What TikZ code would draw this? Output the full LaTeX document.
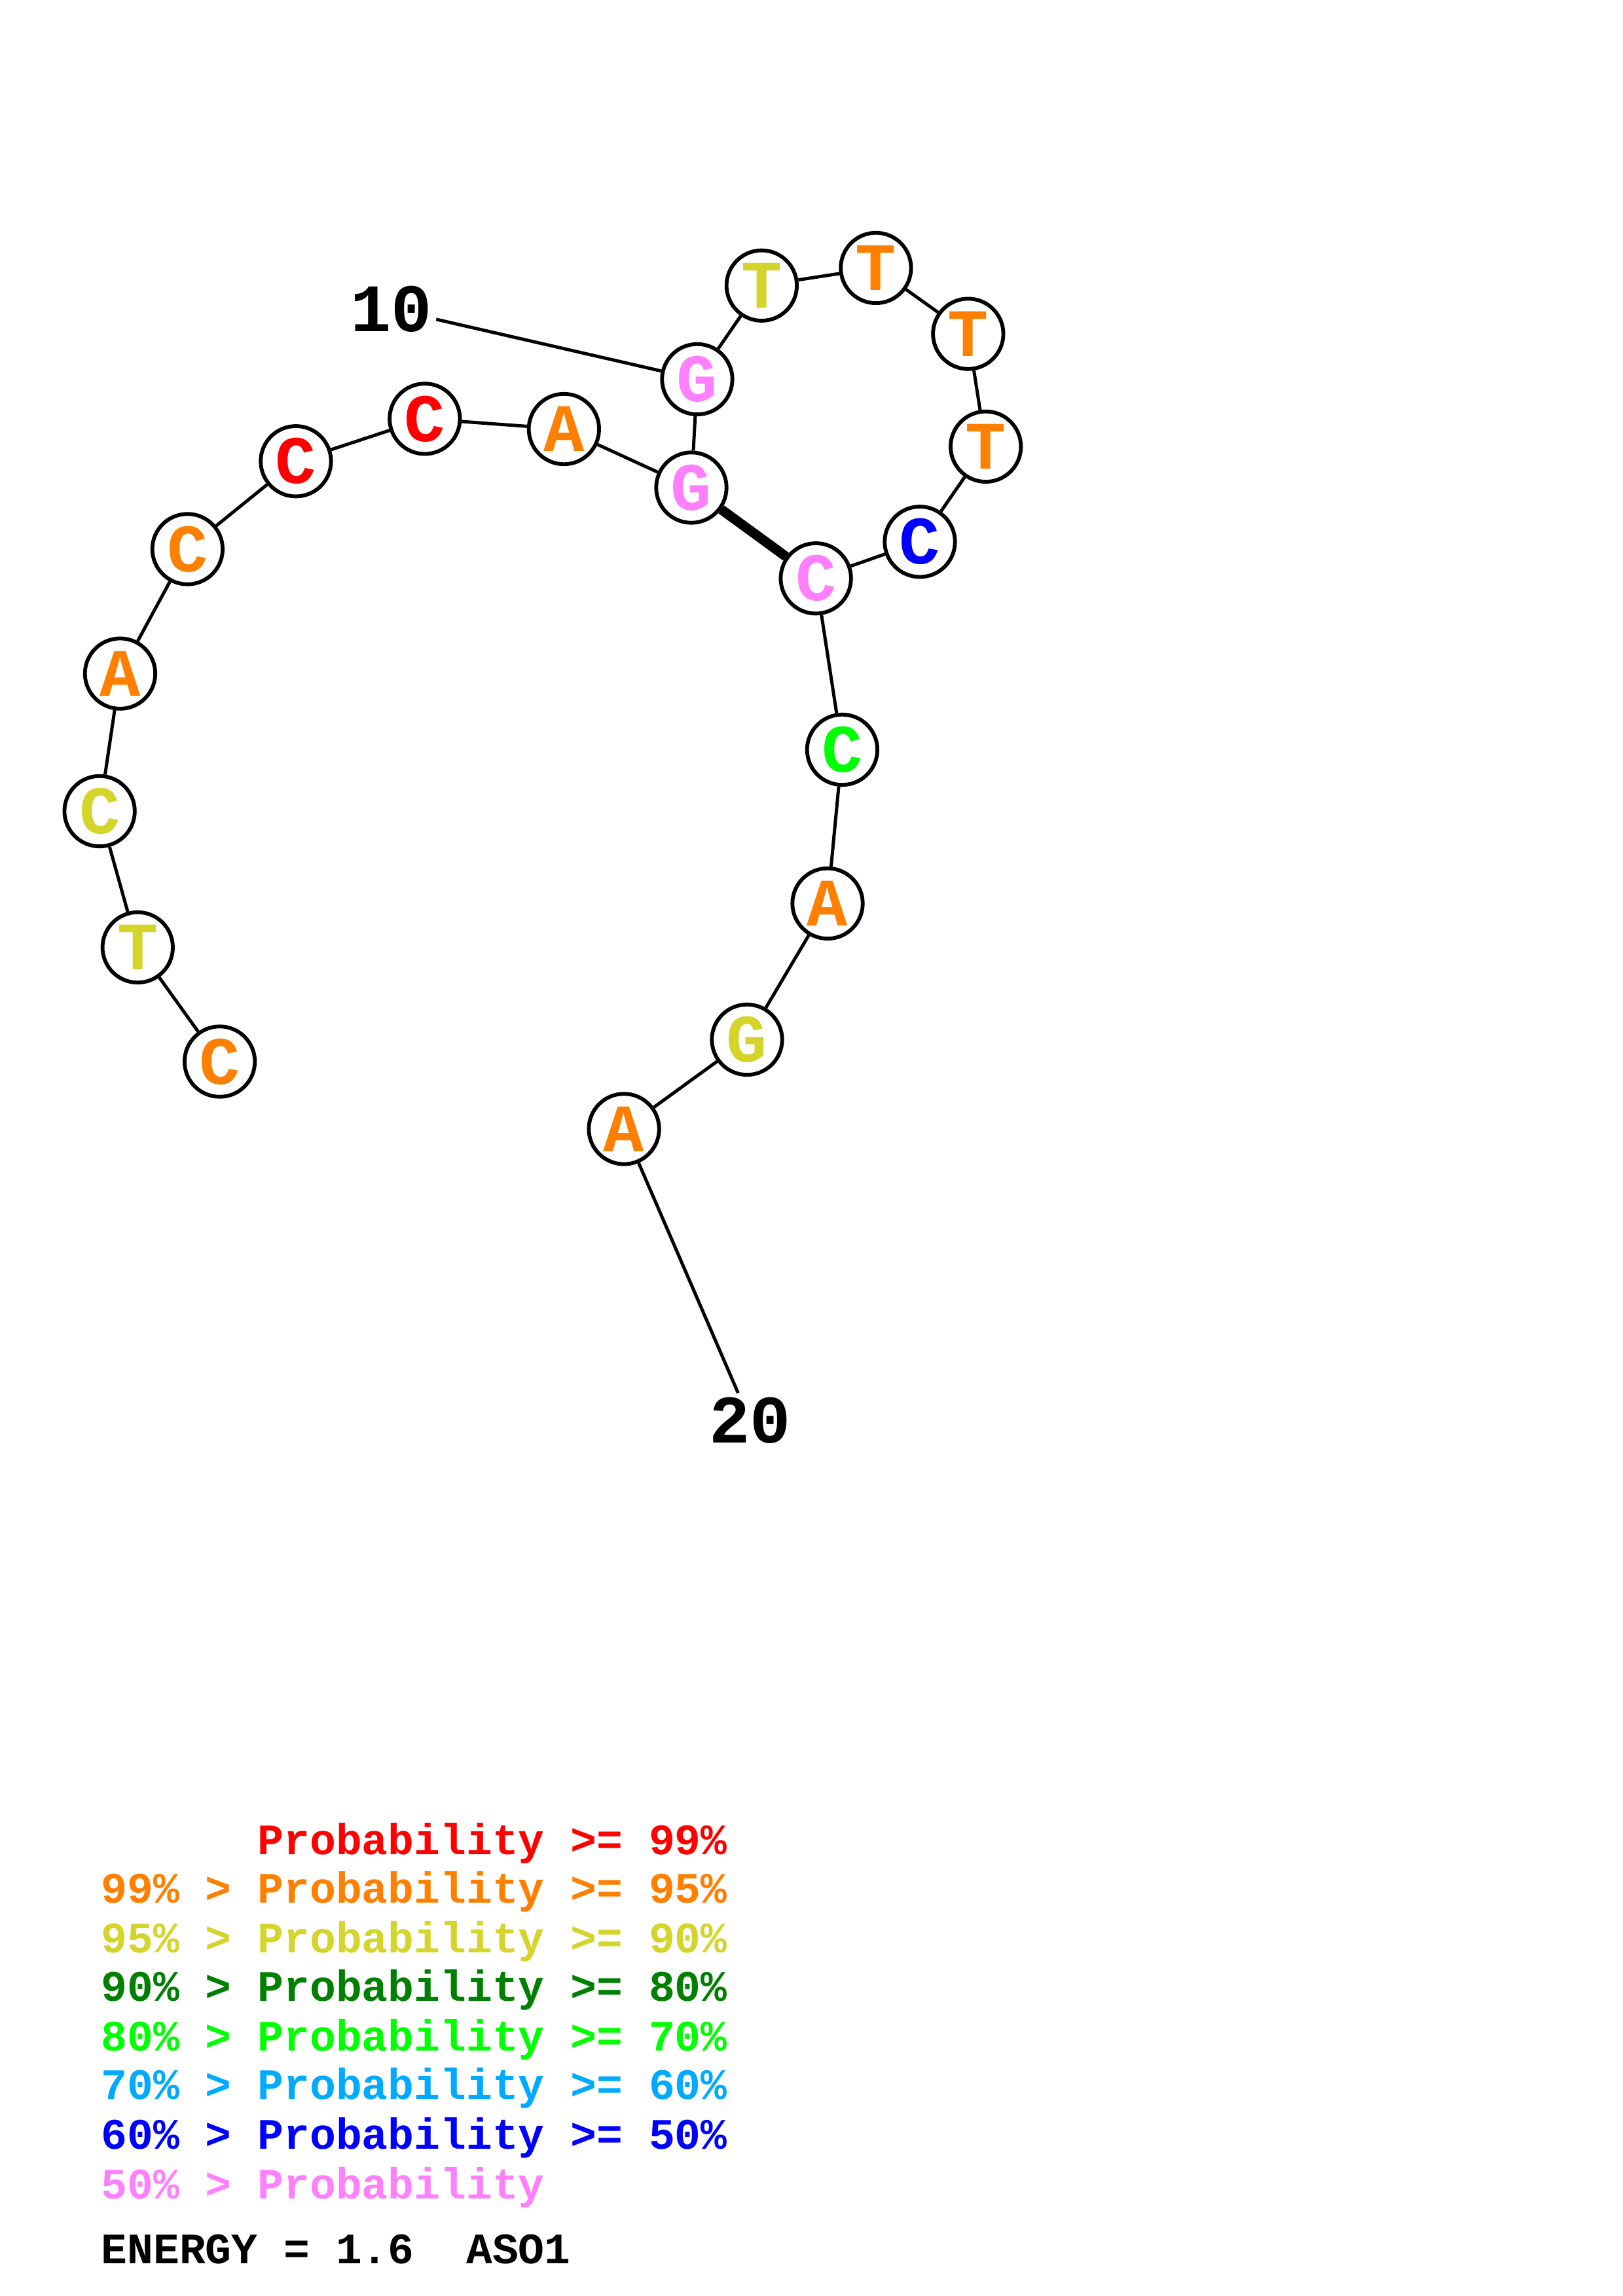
\documentclass[tikz,border=0pt]{standalone}
\usepackage{fontspec}
\setmonofont{Liberation Mono}

% Colours of the probability classes
\definecolor{prA}{RGB}{255,0,0}
\definecolor{prB}{RGB}{255,128,0}
\definecolor{prC}{RGB}{212,212,42}
\definecolor{prD}{RGB}{0,128,0}
\definecolor{prE}{RGB}{0,255,0}
\definecolor{prF}{RGB}{0,170,255}
\definecolor{prG}{RGB}{0,0,255}
\definecolor{prH}{RGB}{255,128,255}

\begin{document}
\begin{tikzpicture}[x=0.018954cm, y=-0.018954cm, line width=1.2pt,
    base/.style={circle, draw, fill=white, line width=1.4pt, minimum size=0.91cm, inner sep=0pt,
      font=\ttfamily\bfseries\fontsize{25}{25}\selectfont},
    idx/.style={inner sep=1pt, font=\ttfamily\bfseries\fontsize{25}{25}\selectfont},
    legend/.style={anchor=west, inner sep=0pt, font=\ttfamily\bfseries\fontsize{16}{16}\selectfont}]
  \useasboundingbox (0,0) rectangle (1108,1568);

  % Bases of the strand
  \node[base, text=prB] (n1) at (150,725) {C};
  \node[base, text=prC] (n2) at (94,647) {T};
  \node[base, text=prC] (n3) at (68,554) {C};
  \node[base, text=prB] (n4) at (82,460) {A};
  \node[base, text=prB] (n5) at (128,375) {C};
  \node[base, text=prA] (n6) at (202,315) {C};
  \node[base, text=prA] (n7) at (290,286) {C};
  \node[base, text=prB] (n8) at (385,293) {A};
  \node[base, text=prH] (n9) at (472,333) {G};
  \node[base, text=prH] (n10) at (476,259) {G};
  \node[base, text=prC] (n11) at (520,195) {T};
  \node[base, text=prB] (n12) at (598,183) {T};
  \node[base, text=prB] (n13) at (661,228) {T};
  \node[base, text=prB] (n14) at (673,305) {T};
  \node[base, text=prG] (n15) at (628,370) {C};
  \node[base, text=prH] (n16) at (557,395) {C};
  \node[base, text=prE] (n17) at (575,512) {C};
  \node[base, text=prB] (n18) at (565,617) {A};
  \node[base, text=prC] (n19) at (510,710) {G};
  \node[base, text=prB] (n20) at (426,771) {A};

  % Position labels
  \node[idx] (lab10) at (267,211) {10};
  \node[idx] (lab20) at (512,970) {20};

  % Backbone
  \draw (n1) -- (n2) -- (n3) -- (n4) -- (n5) -- (n6) -- (n7) -- (n8) -- (n9) -- (n10);
  \draw (n10) -- (n11) -- (n12) -- (n13) -- (n14) -- (n15) -- (n16) -- (n17) -- (n18) -- (n19) -- (n20);

  % Base pair
  \draw[line width=3.6pt] (n9) -- (n16);

  % Ticks to the labels
  \draw (lab10) -- (n10);
  \draw (n20) -- (lab20);

  % Legend
  \node[legend, text=prA] (leg1) at (68,1259) {\phantom{99\% > }Probability >= 99\%};
  \node[legend, text=prB] (leg2) at (68,1292) {99\% > Probability >= 95\%};
  \node[legend, text=prC] (leg3) at (68,1326) {95\% > Probability >= 90\%};
  \node[legend, text=prD] (leg4) at (68,1359) {90\% > Probability >= 80\%};
  \node[legend, text=prE] (leg5) at (68,1393) {80\% > Probability >= 70\%};
  \node[legend, text=prF] (leg6) at (68,1426) {70\% > Probability >= 60\%};
  \node[legend, text=prG] (leg7) at (68,1460) {60\% > Probability >= 50\%};
  \node[legend, text=prH] (leg8) at (68,1494) {50\% > Probability};
  \node[legend] (energy) at (68,1536) {ENERGY = 1.6\ \ ASO1};
\end{tikzpicture}
\end{document}
